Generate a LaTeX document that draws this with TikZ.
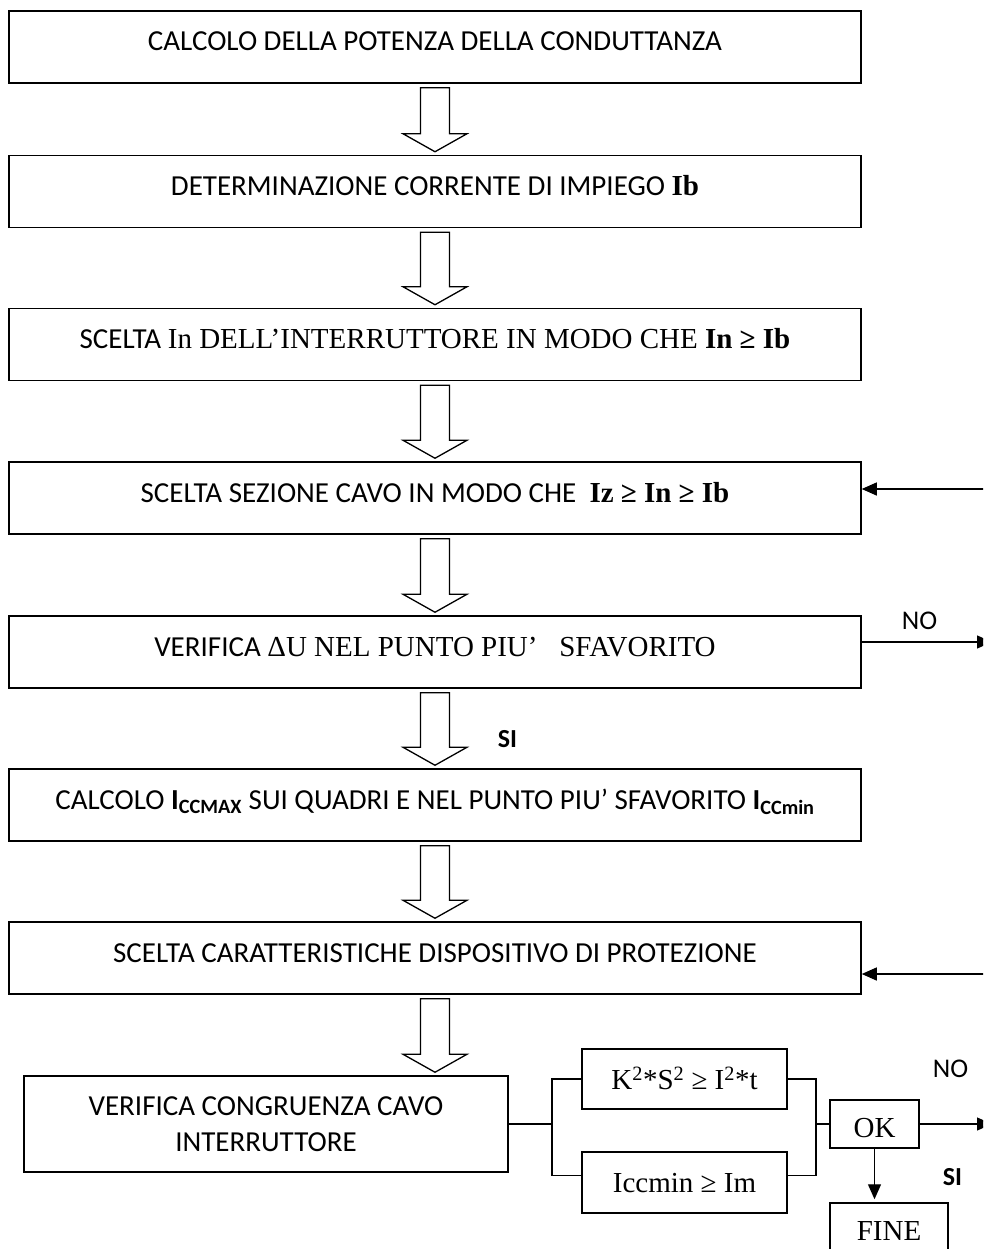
\documentclass[tikz,border=0pt]{standalone}
\usepackage{fontspec}
\setmainfont{Carlito}
\newfontfamily\tms{Liberation Serif}
\usetikzlibrary{arrows.meta,calc}
\tikzset{
  x=1pt, y=-1pt,
  box/.style={draw, line width=1.5pt, inner sep=0pt, font=\fontsize{29}{36}\selectfont},
  one/.style={box, text height=22pt, text depth=14pt},
  wide/.style={one, minimum width=852pt, minimum height=72pt},
  blk/.style={draw, line width=1.3pt, line join=miter},
  conn/.style={line width=1.3pt},
  arr/.style={conn, -{Triangle[length=15pt,width=13pt]}},
  lbl/.style={inner sep=0pt, font=\fontsize{27}{30}\selectfont},
  lblb/.style={inner sep=0pt, font=\fontsize{26}{30}\selectfont\bfseries},
}
\newcommand{\myblockarrow}[2]{%
  \draw[blk] let \p1=($(#1.south)+(0,4)$), \p2=($(#2.north)+(0,-3)$) in
   (\x1-14.5pt,\y1) -- (\x1-14.5pt,\y2+18pt) -- (\x1-32pt,\y2+18pt) -- (\x1,\y2)
   -- (\x1+32pt,\y2+18pt) -- (\x1+14.5pt,\y2+18pt) -- (\x1+14.5pt,\y1) -- cycle;}
\begin{document}
\begin{tikzpicture}
\path[use as bounding box] (0,0) rectangle (983,1249);
\clip (0,0) rectangle (983,1249);

\node[wide] (b1) at (435,47) {CALCOLO DELLA POTENZA DELLA CONDUTTANZA};
\node[wide] (b2) at (435,191.5) {DETERMINAZIONE CORRENTE DI IMPIEGO {\tms\bfseries Ib}};
\node[wide] (b3) at (435,344.5) {SCELTA {\tms In DELL’INTERRUTTORE IN MODO CHE \textbf{In ≥ Ib}}};
\node[wide] (b4) at (435,498) {SCELTA SEZIONE CAVO IN MODO CHE\ \ {\tms\bfseries Iz ≥ In ≥ Ib}};
\node[wide] (b5) at (435,652) {VERIFICA {\tms ΔU NEL PUNTO PIU’\ \ \ SFAVORITO}};
\node[wide] (b6) at (435,805) {CALCOLO \textbf{I}\textsubscript{\textbf{CCMAX}} SUI QUADRI E NEL PUNTO PIU’ SFAVORITO \textbf{I}\textsubscript{\textbf{CCmin}}};
\node[wide] (b7) at (435,958) {SCELTA CARATTERISTICHE DISPOSITIVO DI PROTEZIONE};
\node[box, minimum width=484pt, minimum height=96pt, align=center] (b8) at (266,1124) {VERIFICA CONGRUENZA CAVO\\INTERRUTTORE};

\node[box, font=\fontsize{29}{36}\selectfont\tms, text height=24pt, text depth=3pt, minimum width=205pt, minimum height=60pt] (bk) at (684.5,1079) {K\textsuperscript{2}*S\textsuperscript{2} ≥ I\textsuperscript{2}*t};
\node[box, font=\fontsize{29}{36}\selectfont\tms, text height=24pt, text depth=4pt, minimum width=205pt, minimum height=61pt] (bi) at (684.5,1182.5) {Iccmin ≥ Im};
\node[box, font=\fontsize{29}{36}\selectfont\tms, text height=27pt, text depth=0pt, minimum width=89pt, minimum height=48pt] (ok) at (874.5,1124) {OK};
\node[box, font=\fontsize{29}{36}\selectfont\tms, text height=16pt, text depth=2pt, minimum width=118pt, minimum height=60pt] (fine) at (889,1233) {FINE};

\myblockarrow{b1}{b2}
\myblockarrow{b2}{b3}
\myblockarrow{b3}{b4}
\myblockarrow{b4}{b5}
\myblockarrow{b5}{b6}
\myblockarrow{b6}{b7}
\myblockarrow{b7}{b8}

\coordinate (r4) at (995,489);
\coordinate (r5) at (992,642);
\coordinate (r7) at (995,974);
\coordinate (r8) at (992,1124);
\coordinate (lb) at (552,1124);
\coordinate (rb) at (816,1124);

\draw[arr] (r4) -- (r4 -| b4.east);
\draw[arr] (r5 -| b5.east) -- (r5);
\draw[arr] (r7) -- (r7 -| b7.east);

\draw[conn] (b8.east) -- (lb);
\draw[conn] (bk.west) -| (lb) |- ($(bi.west)+(0,-7)$);
\draw[conn] (bk.east) -| (rb) |- ($(bi.east)+(0,-7)$);
\draw[conn] (rb) -- (ok.west);
\draw[arr] (ok.east) -- (r8);
\draw[arr, shorten >=3pt] (ok.south) -- (ok.south |- fine.north);

\node[lbl] (no1) at (919.5,620.5) {NO};
\node[lblb] (si1) at (507.5,739) {SI};
\node[lbl] (no2) at (950.5,1068.5) {NO};
\node[lblb] (si2) at (952.5,1177.5) {SI};
\end{tikzpicture}
\end{document}
